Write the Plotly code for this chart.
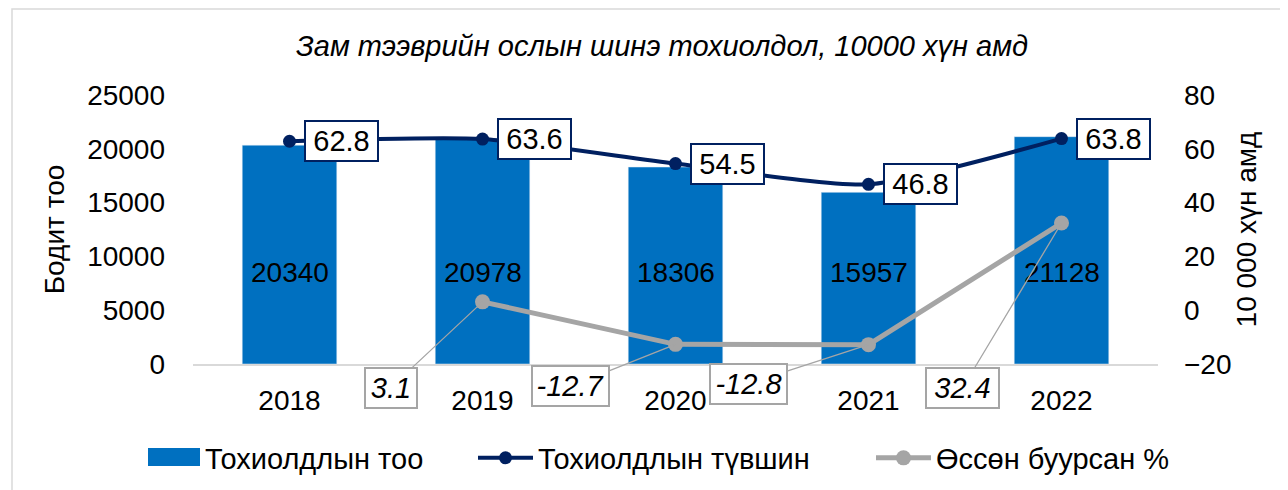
import plotly.graph_objects as go

years = ["2018", "2019", "2020", "2021", "2022"]
cases = [20340, 20978, 18306, 15957, 21128]
rate = [62.8, 63.6, 54.5, 46.8, 63.8]
growth = [None, 3.1, -12.7, -12.8, 32.4]

title_text = "Зам тээврийн ослын шинэ тохиолдол, 10000 хүн амд"
name_bar = "Тохиолдлын тоо"
name_rate = "Тохиолдлын түвшин"
name_growth = "Өссөн буурсан %"
ylabel_left = "Бодит тоо"
ylabel_right = "10 000 хүн амд"

FONT = "Liberation Sans, Arial, sans-serif"
BAR_C = "#0070C0"
NAVY = "#002060"
GRAY = "#A5A5A5"

# plot area in reference-image pixels; the page body adds an 8px offset
OFF = 8
PL, PT, PW, PH = 193, 95, 965, 269
W, H = 1288, 490


def px(x):
    return (x - PL) / PW


def py(y):
    return (PT + PH - y) / PH


fig = go.Figure()
fig.add_trace(go.Bar(
    x=years, y=cases, name=name_bar, marker_color=BAR_C, width=0.49, showlegend=False,
    textposition="none",
))
# legend entry for the bars (swatch drawn as a shape below)
fig.add_trace(go.Scatter(
    x=[None], y=[None], name=name_bar, mode="lines", legend="legend",
    line=dict(color="rgba(0,0,0,0)", width=1),
))
fig.add_trace(go.Scatter(
    x=years, y=rate, name=name_rate, mode="lines+markers", yaxis="y2", legend="legend2",
    line=dict(color=NAVY, width=4, shape="spline", smoothing=0.6),
    marker=dict(color=NAVY, size=13),
))
fig.add_trace(go.Scatter(
    x=years, y=growth, name=name_growth, mode="lines+markers", yaxis="y2", legend="legend3",
    line=dict(color=GRAY, width=5), marker=dict(color=GRAY, size=15),
))

ann = []
# bar value labels (all at the same height, as in the reference)
bar_label_y = 25000 * (PT + PH - 272) / PH
for i, v in enumerate(cases):
    ann.append(dict(x=i, y=bar_label_y, xref="x", yref="y", text=str(v), showarrow=False,
                    yanchor="middle", font=dict(size=28, color="black", family=FONT)))
for i, v in enumerate(rate):
    ann.append(dict(x=i, y=v, xref="x", yref="y2", text=f"{v}", showarrow=True,
                    ax=52, ay=0, arrowcolor="rgba(0,0,0,0)", arrowwidth=0.1,
                    width=65, height=32,
                    bgcolor="white", bordercolor=NAVY, borderwidth=2, borderpad=3,
                    font=dict(size=29, color="black", family=FONT)))
g_off = {1: (-92, 86, 44), 2: (-105, 42, 69), 3: (-120, 39, 69), 4: (-99, 165, 65)}
for i, v in enumerate(growth):
    if v is None:
        continue
    ax, ay, w = g_off[i]
    ann.append(dict(x=i, y=v, xref="x", yref="y2", text=f"<i>{v}</i>", showarrow=True,
                    ax=ax, ay=ay, arrowcolor=GRAY, arrowwidth=1.3, arrowhead=0,
                    width=w, height=32,
                    bgcolor="white", bordercolor=GRAY, borderwidth=2, borderpad=3,
                    font=dict(size=29, color="black", family=FONT)))
ann.append(dict(x=px(662), y=py(46), xref="paper", yref="paper", yanchor="middle",
                text=f"<i>{title_text}</i>", showarrow=False,
                font=dict(size=29, color="black", family=FONT)))

leg_common = dict(orientation="h", yanchor="middle", xanchor="left", y=py(458),
                  font=dict(size=29, color="black", family=FONT), itemwidth=55,
                  bgcolor="rgba(0,0,0,0)")

fig.update_layout(
    width=W, height=H,
    margin=dict(l=PL - OFF, r=W - (PL + PW - OFF), t=PT - OFF,
                b=H - (PT + PH - OFF), autoexpand=False),
    paper_bgcolor="white", plot_bgcolor="white",
    font=dict(family=FONT, size=27, color="black"),
    showlegend=True,
    legend=dict(leg_common, x=px(140)),
    legend2=dict(leg_common, x=px(473)),
    legend3=dict(leg_common, x=px(871)),
    bargap=0.51,
    xaxis=dict(type="category", range=[-0.5, 4.5], showline=True, linecolor="#D9D9D9",
               linewidth=1.5, ticks="", showgrid=False, tickfont=dict(size=28),
               ticklabelstandoff=11, automargin=False),
    yaxis=dict(range=[0, 25000], dtick=5000, tickformat="d", showgrid=False, zeroline=False,
               showline=False, tickfont=dict(size=28), ticklabelstandoff=27, automargin=False,
               title=dict(text=ylabel_left, font=dict(size=28), standoff=14)),
    yaxis2=dict(range=[-20, 80], dtick=20, overlaying="y", side="right",
                showgrid=False, zeroline=False, showline=False, automargin=False,
                tickfont=dict(size=28), ticklabelstandoff=25,
                title=dict(text=ylabel_right, font=dict(size=28), standoff=5)),
    annotations=ann,
    shapes=[dict(type="rect", xref="paper", yref="paper",
                 x0=px(12), x1=px(1286), y0=py(520), y1=py(9),
                 line=dict(color="#D9D9D9", width=1.5), layer="below"),
            dict(type="rect", xref="paper", yref="paper",
                 x0=px(148), x1=px(200), y0=py(466), y1=py(448),
                 fillcolor=BAR_C, line=dict(width=0))],
)

fig.write_html("out.html")
